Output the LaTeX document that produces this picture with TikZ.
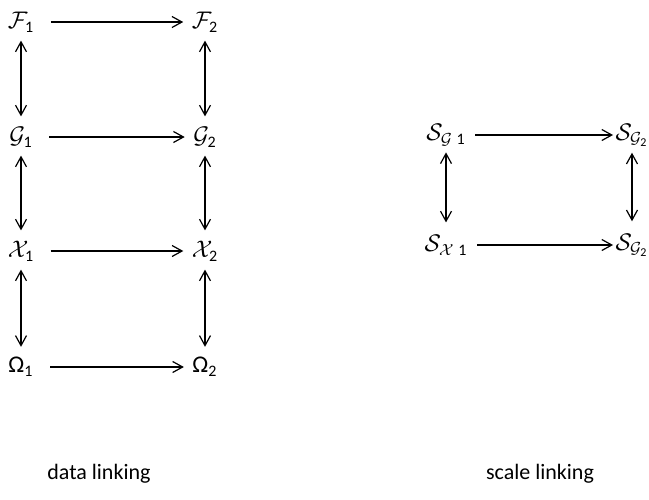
\documentclass[tikz,border=0pt]{standalone}
\usepackage{amsmath,amssymb}
\usepackage{fontspec}
\setmainfont{Carlito}
\usetikzlibrary{arrows.meta}

\begin{document}
\begin{tikzpicture}[
  x=0.5pt, y=-0.5pt, font=\large, line width=0.6pt,
  >={Straight Barb[length=5pt, width=5.5pt]},
  every node/.style={inner sep=0pt},
  map/.style={->, shorten <=8pt, shorten >=4pt},
  link/.style={<->, shorten <=4pt, shorten >=5pt},
  smap/.style={->, shorten <=4.5pt, shorten >=1pt},
  slink/.style={<->, shorten <=3pt, shorten >=6pt},
  caption/.style={font=\fontsize{11}{13}\selectfont}
]
\useasboundingbox (0,0) rectangle (649,499);
% data linking
\node (f1) at (21,22)  {$\mathcal{F}_{\text{1}}$};
\node (f2) at (205,22) {$\mathcal{F}_{\text{2}}$};
\node (g1) at (21,137)  {$\mathcal{G}_{\text{1}}$};
\node (g2) at (205,137) {$\mathcal{G}_{\text{2}}$};
\node (x1) at (21,251)  {$\mathcal{X}_{\text{1}}$};
\node (x2) at (205,251) {$\mathcal{X}_{\text{2}}$};
\node (o1) at (21,367)  {Ω$_{\text{1}}$};
\node (o2) at (205,367) {Ω$_{\text{2}}$};
\foreach \a/\b in {f1/f2, g1/g2, x1/x2, o1/o2}
  \draw[map] (\a) -- (\b);
\foreach \a/\b in {f1/g1, g1/x1, x1/o1, f2/g2, g2/x2, x2/o2}
  \draw[link] (\a) -- (\b);
% scale linking
\node (sg1) at (446,135) {$\mathcal{S}_{\mathcal{G}\;\text{1}}$};
\node (sg2) at (632,135) {$\mathcal{S}_{\mathcal{G}_{\text{2}}}$};
\node (sx1) at (446,245) {$\mathcal{S}_{\mathcal{X}\;\text{1}}$};
\node (sx2) at (632,245) {$\mathcal{S}_{\mathcal{G}_{\text{2}}}$};
\foreach \a/\b in {sg1/sg2, sx1/sx2}
  \draw[smap] (\a) -- (\b);
\foreach \a/\b in {sg1/sx1, sg2/sx2}
  \draw[slink] (\a) -- (\b);
% captions
\node[caption] (dl) at (99,474)  {data linking};
\node[caption] (sl) at (540,474) {scale linking};
\end{tikzpicture}
\end{document}
